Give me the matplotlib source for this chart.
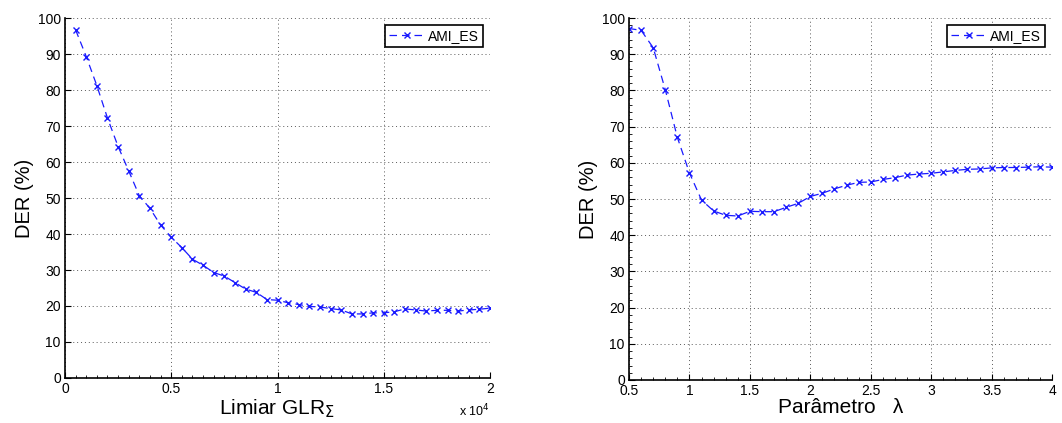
import numpy as np
import matplotlib
matplotlib.use("Agg")
import matplotlib.pyplot as plt
from matplotlib.ticker import FuncFormatter, MultipleLocator, AutoMinorLocator

plt.rcParams["font.family"] = ["Liberation Sans", "DejaVu Sans"]
plt.rcParams["mathtext.fontset"] = "dejavusans"

# GLR threshold sweep
glr_thr = np.arange(500, 20001, 500)
der_glr = [96.7, 89.3, 81.2, 72.2, 64.3, 57.5, 50.6, 47.1, 42.5, 39.1,
           36.2, 33.0, 31.3, 29.3, 28.3, 26.5, 24.7, 23.8, 21.8, 21.6,
           20.9, 20.4, 19.9, 19.7, 19.3, 18.9, 17.8, 17.8, 18.1, 18.1,
           18.4, 19.2, 18.9, 18.6, 18.8, 18.8, 18.6, 18.9, 19.1, 19.4]

# lambda parameter sweep
lam = np.round(np.arange(0.5, 4.01, 0.1), 1)
der_lam = [97.1, 96.6, 91.8, 80.2, 67.0, 57.2, 49.7, 46.7, 45.5, 45.3,
           46.6, 46.5, 46.5, 47.7, 48.8, 50.7, 51.6, 52.8, 53.8, 54.6,
           54.7, 55.4, 55.9, 56.6, 56.9, 57.1, 57.5, 57.9, 58.2, 58.3,
           58.6, 58.7, 58.7, 58.8, 58.9, 58.8]

LABEL = "AMI_ES"


def style_axes(ax):
    for side in ("top", "right"):
        ax.spines[side].set_visible(False)
    for side in ("left", "bottom"):
        ax.spines[side].set_linewidth(1.2)
    ax.tick_params(direction="in", which="both", labelsize=10, pad=3)
    ax.tick_params(which="major", length=4)
    ax.tick_params(which="minor", length=2)
    ax.grid(True, which="major", linestyle=(0, (1, 3)), color="0.35", linewidth=0.7)
    ax.set_ylim(0, 100)
    ax.yaxis.set_major_locator(MultipleLocator(10))
    ax.set_ylabel("DER (%)", fontsize=14.5, labelpad=3)


def draw(ax, x, y):
    ax.plot(x, y, linestyle="--", color="#1a1aff", linewidth=0.9,
            marker="x", markersize=5, markeredgewidth=1.0, label=LABEL,
            dashes=(6, 4))
    leg = ax.legend(loc="upper right", fontsize=10, fancybox=False,
                    framealpha=1, borderpad=0.3, handlelength=2.6,
                    handletextpad=0.2, borderaxespad=0.5)
    leg.get_frame().set_edgecolor("black")
    leg.get_frame().set_linewidth(1.2)


fig = plt.figure(figsize=(10.62, 4.23), dpi=100)
ax1 = fig.add_axes([0.0612, 0.1064, 0.4002, 0.851])
ax2 = fig.add_axes([0.5923, 0.1017, 0.3983, 0.8557])

style_axes(ax1)
draw(ax1, glr_thr, der_glr)
ax1.set_xlim(0, 20000)
ax1.xaxis.set_major_locator(MultipleLocator(5000))
ax1.xaxis.set_minor_locator(AutoMinorLocator(10))
ax1.tick_params(axis="y", which="minor", left=False)
ax1.xaxis.set_major_formatter(FuncFormatter(lambda v, p: f"{v / 1e4:g}"))
ax1.set_xlabel(r"Limiar GLR$_{\Sigma}$", fontsize=15, labelpad=1)
fig.text(0.4614, 0.008, r"x 10$^4$", fontsize=9, ha="right", va="bottom")

style_axes(ax2)
draw(ax2, lam, der_lam)
ax2.set_xlim(0.5, 4)
ax2.xaxis.set_major_locator(MultipleLocator(0.5))
ax2.xaxis.set_minor_locator(AutoMinorLocator(5))
ax2.yaxis.set_minor_locator(AutoMinorLocator(5))
ax2.xaxis.set_major_formatter(FuncFormatter(lambda v, p: f"{v:g}"))
ax2.set_xlabel("Parâmetro   λ", fontsize=15, labelpad=0)

fig.savefig("out.png", dpi=100)
